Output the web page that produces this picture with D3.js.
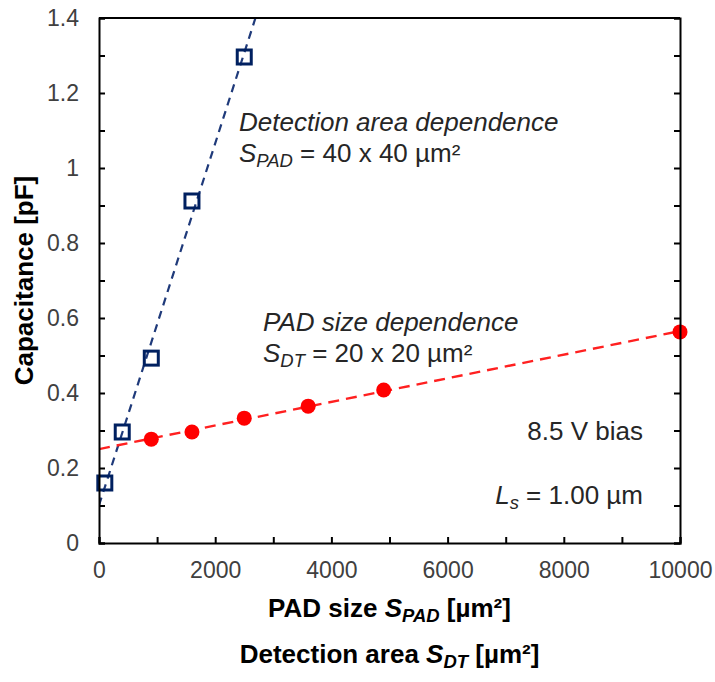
<!DOCTYPE html>
<html>
<head>
<meta charset="utf-8">
<script src="https://cdn.jsdelivr.net/npm/d3@7"></script>
<style>
  body { margin: 0; background: #fff; }
  svg { font-family: "Liberation Sans", Arial, sans-serif; }
</style>
</head>
<body>
<div class="chart"></div>
<script>
// detection area dependence (S_PAD = 40 x 40)
const dtArea = [100, 400, 900, 1600, 2500];
const dtCap = [0.160, 0.296, 0.493, 0.912, 1.296];
// pad size dependence (S_DT = 20 x 20)
const padSize = [900, 1600, 2500, 3600, 4900, 10000];
const padCap = [0.277, 0.296, 0.333, 0.365, 0.408, 0.563];

const xTicks = [0, 2000, 4000, 6000, 8000, 10000];
const yTicks = [0, 0.2, 0.4, 0.6, 0.8, 1, 1.2, 1.4];

//svg + margins
const width = 715, height = 682;
const margin = {top: 18, right: 35, bottom: 139, left: 99};
const w = width - margin.left - margin.right;
const h = height - margin.top - margin.bottom;

const svg = d3.select(".chart").append("svg")
    .attr("width", width)
    .attr("height", height);

const g = svg.append("g")
    .attr("transform", `translate(${margin.left},${margin.top})`);

const x = d3.scaleLinear().domain([0, 10000]).range([0, w]);
const y = d3.scaleLinear().domain([0, 1.4]).range([h, 0]);

g.append("clipPath").attr("id", "clip")
  .append("rect").attr("width", w).attr("height", h);

// linear trendlines (least squares)
function fit(xs, ys) {
    const mx = d3.mean(xs), my = d3.mean(ys);
    const sxy = d3.sum(xs, (v, i) => (v - mx) * (ys[i] - my));
    const sxx = d3.sum(xs, v => (v - mx) * (v - mx));
    const b = sxy / sxx;
    return {b: b, a: my - b * mx};
}
const fDt = fit(dtArea, dtCap);
const fPad = fit(padSize, padCap);

const line = d3.line().x(d => x(d[0])).y(d => y(d[1]));
const plot = g.append("g").attr("clip-path", "url(#clip)");

plot.append("path")
    .datum([[0, fDt.a], [10000, fDt.a + fDt.b * 10000]])
    .attr("d", line)
    .attr("fill", "none")
    .attr("stroke", "#1F3A7A")
    .attr("stroke-width", 2.2)
    .attr("stroke-dasharray", "8,6");

plot.append("path")
    .datum([[0, fPad.a], [10000, fPad.a + fPad.b * 10000]])
    .attr("d", line)
    .attr("fill", "none")
    .attr("stroke", "#FF2020")
    .attr("stroke-width", 2.4)
    .attr("stroke-dasharray", "11,7");

// markers
g.selectAll(".sq").data(dtArea).join("rect")
    .attr("class", "sq")
    .attr("x", d => x(d) - 7)
    .attr("y", (d, i) => y(dtCap[i]) - 7)
    .attr("width", 14).attr("height", 14)
    .attr("fill", "none")
    .attr("stroke", "#002060")
    .attr("stroke-width", 3);

g.selectAll(".dot").data(padSize).join("circle")
    .attr("class", "dot")
    .attr("cx", d => x(d))
    .attr("cy", (d, i) => y(padCap[i]))
    .attr("r", 7.5)
    .attr("fill", "#FF0000");

// axes
const xAxis = g.append("g")
    .attr("transform", `translate(0,${h})`)
    .call(d3.axisBottom(x).tickValues(d3.range(0, 10001, 1000))
        .tickSize(-6).tickPadding(19)
        .tickFormat(d => xTicks.includes(d) ? d : ""));

const yAxis = g.append("g")
    .call(d3.axisLeft(y).tickValues(d3.range(0, 15).map(i => i / 10))
        .tickSize(-6).tickPadding(20)
        .tickFormat(d => yTicks.some(t => Math.abs(t - d) < 1e-9) ? d3.format("~g")(d) : ""));

const yRight = g.append("g")
    .attr("transform", `translate(${w},0)`)
    .call(d3.axisRight(y).tickValues(d3.range(0, 15).map(i => i / 10))
        .tickSize(-6).tickFormat(""));

g.append("line").attr("x1", 0).attr("x2", w).attr("y1", 0).attr("y2", 0)
    .attr("stroke", "#000").attr("stroke-width", 2);

[xAxis, yAxis, yRight].forEach(a => {
    a.select(".domain").attr("stroke", "#000").attr("stroke-width", 2);
    a.selectAll(".tick line").attr("stroke", "#000").attr("stroke-width", 2);
    a.selectAll(".tick text")
        .attr("font-size", 23)
        .attr("font-family", "Liberation Sans, Arial, sans-serif")
        .attr("fill", "#404040");
});

// axis titles
svg.append("text")
    .attr("transform", `translate(33,${margin.top + h / 2}) rotate(-90)`)
    .attr("text-anchor", "middle")
    .attr("font-size", 26).attr("font-weight", "bold")
    .text("Capacitance [pF]");

function subText(sel, parts) {
    parts.forEach(p => {
        const t = sel.append("tspan").text(p.t);
        if (p.i) t.attr("font-style", "italic");
        if (p.sub) t.attr("font-size", "0.71em").attr("dy", 5);
        if (p.up) t.attr("dy", -5);
    });
    return sel;
}

subText(svg.append("text")
    .attr("x", margin.left + w / 2).attr("y", 617)
    .attr("text-anchor", "middle")
    .attr("font-size", 26).attr("font-weight", "bold"),
    [{t: "PAD size "}, {t: "S", i: true}, {t: "PAD", i: true, sub: true},
     {t: " [µm²]", up: true}]);

subText(svg.append("text")
    .attr("x", margin.left + w / 2).attr("y", 663)
    .attr("text-anchor", "middle")
    .attr("font-size", 26).attr("font-weight", "bold"),
    [{t: "Detection area "}, {t: "S", i: true}, {t: "DT", i: true, sub: true},
     {t: " [µm²]", up: true}]);

// annotations
const ann = g.append("g").attr("font-size", 26).attr("fill", "#262626");

ann.append("text").attr("x", 239 - margin.left).attr("y", 131 - margin.top)
    .attr("font-style", "italic").text("Detection area dependence");
subText(ann.append("text").attr("x", 239 - margin.left).attr("y", 162 - margin.top),
    [{t: "S", i: true}, {t: "PAD", i: true, sub: true}, {t: " = 40 x 40 µm²", up: true}]);

ann.append("text").attr("x", 263 - margin.left).attr("y", 331 - margin.top)
    .attr("font-style", "italic").text("PAD size dependence");
subText(ann.append("text").attr("x", 263 - margin.left).attr("y", 362 - margin.top),
    [{t: "S", i: true}, {t: "DT", i: true, sub: true}, {t: " = 20 x 20 µm²", up: true}]);

ann.append("text").attr("x", 643 - margin.left).attr("y", 440 - margin.top)
    .attr("text-anchor", "end").text("8.5 V bias");
subText(ann.append("text").attr("x", 643 - margin.left).attr("y", 504 - margin.top)
    .attr("text-anchor", "end"),
    [{t: "L", i: true}, {t: "s", i: true, sub: true}, {t: " = 1.00 µm", up: true}]);
</script>
</body>
</html>
